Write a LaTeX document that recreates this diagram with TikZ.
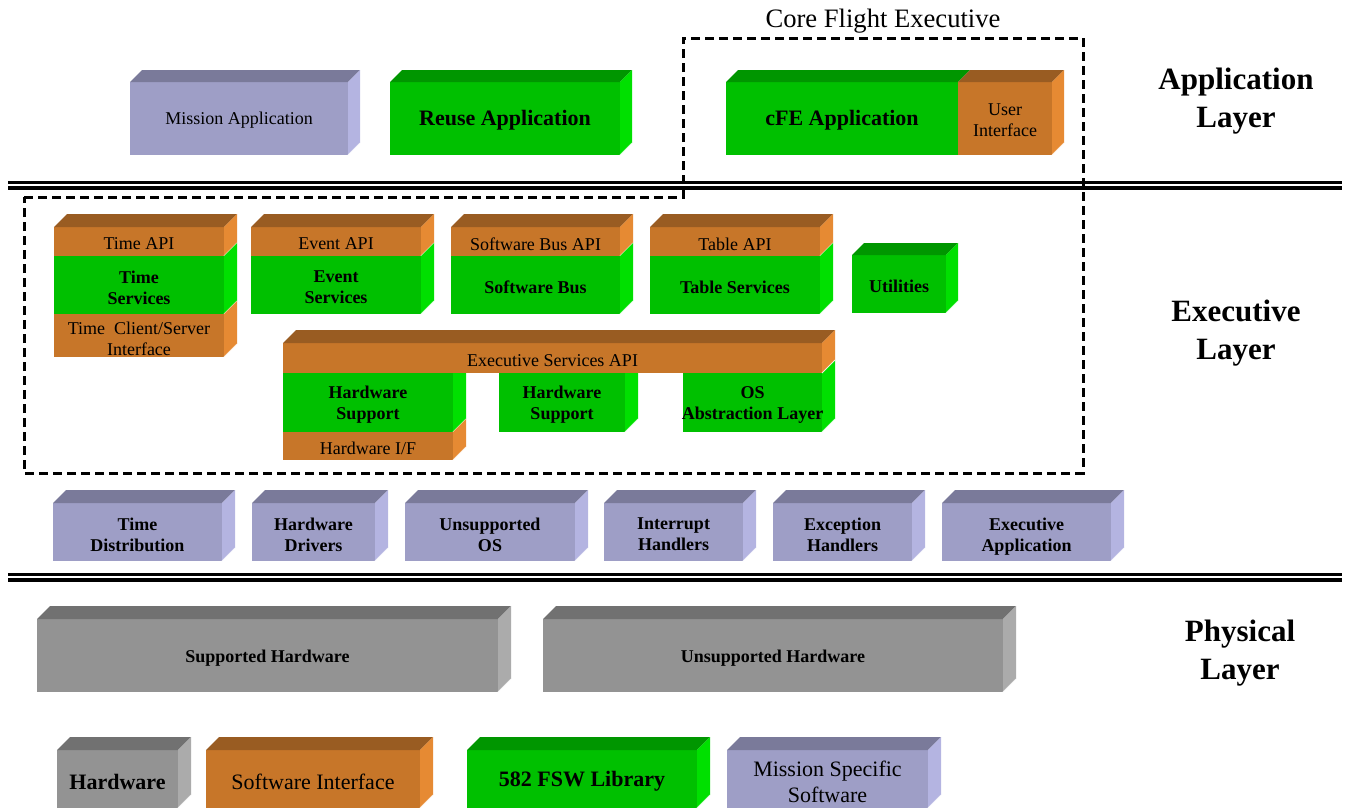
\documentclass[tikz,border=0pt]{standalone}
\usepackage{fontspec}
\setmainfont{Liberation Serif}
\definecolor{gF}{HTML}{00C000}\definecolor{gT}{HTML}{009600}\definecolor{gS}{HTML}{00E000}
\definecolor{oF}{HTML}{C77629}\definecolor{oT}{HTML}{995C22}\definecolor{oS}{HTML}{E68A33}
\definecolor{pF}{HTML}{9E9EC6}\definecolor{pT}{HTML}{7A7A9A}\definecolor{pS}{HTML}{B4B4E1}
\definecolor{hF}{HTML}{939393}\definecolor{hT}{HTML}{717171}\definecolor{hS}{HTML}{ABABAB}
% front face: x1,y1,x2,y2,col
\newcommand\frontF[5]{\fill[#5F] (#1,#2) rectangle (#3,#4);}
% top face: x1,y1,x2,d,col
\newcommand\topF[5]{\fill[#5T] (#1,#2) -- (#3,#2) -- (#3+#4,#2-#4) -- (#1+#4,#2-#4) -- cycle;}
% side face: x2,y1,y2,d,col
\newcommand\sideF[5]{\fill[#5S] (#1,#2) -- (#1+#4,#2-#4) -- (#1+#4,#3-#4) -- (#1,#3) -- cycle;
  \draw[white,opacity=.8,line width=.4pt] (#1,#3) -- (#1+#4,#3-#4);}
% full block: x1,y1,x2,y2,d,col
\newcommand\blk[6]{\frontF{#1}{#2}{#3}{#4}{#6}\topF{#1}{#2}{#3}{#5}{#6}\sideF{#3}{#2}{#4}{#5}{#6}}
% block without top: x1,y1,x2,y2,d,col
\newcommand\blkN[6]{\frontF{#1}{#2}{#3}{#4}{#6}\sideF{#3}{#2}{#4}{#5}{#6}}
\tikzset{
  txt/.style={align=center, inner sep=0pt, text=black, yshift=-1.25pt},
  t9/.style={txt, font=\fontsize{9}{10.5}\selectfont},
  b9/.style={txt, font=\fontsize{9}{10.5}\selectfont\bfseries},
  t11/.style={txt, font=\fontsize{11}{13}\selectfont},
  b11/.style={txt, font=\fontsize{11}{13}\selectfont\bfseries},
  layerlbl/.style={txt, font=\fontsize{15.5}{19}\selectfont\bfseries},
  titlelbl/.style={txt, font=\fontsize{13.3}{15}\selectfont},
  sep/.style={line width=1.6pt, black},
  cfe/.style={line width=1.5pt, black, dash pattern=on 4.5pt off 2.5pt}
}
\begin{document}
\begin{tikzpicture}[x=0.5pt,y=-0.5pt]
\useasboundingbox (0,0) rectangle (1350,810);
% ---------------- Application layer ----------------
\blk{130}{82}{348}{155}{12}{p}
\node[t9] (missionapp) at (239,118) {Mission Application};
\blk{390}{82}{620}{155}{12}{g}
\node[b11] (reuseapp) at (505,118) {Reuse Application};
\frontF{726}{82}{958}{155}{g}\topF{726}{82}{958}{12}{g}
\frontF{958}{82}{1052}{155}{o}\topF{958}{82}{1052}{12}{o}\sideF{1052}{82}{155}{12}{o}
\node[b11] (cfeapp) at (842,118) {cFE Application};
\node[t9] (ui) at (1005,118) {User\\Interface};
% ---------------- Executive layer: services ----------------
% Time
\frontF{54}{227}{224}{256}{o}\topF{54}{227}{224}{13}{o}\sideF{224}{227}{256}{13}{o}
\blkN{54}{256}{224}{314}{13}{g}
\blkN{54}{314}{224}{357}{13}{o}
\node[t9] (timeapi) at (139,241.5) {Time API};
\node[b9] (timesvc) at (139,285) {Time\\Services};
\node[t9] (timecs) at (139,336) {Time~ Client/Server\\Interface};
% Event
\frontF{251}{227}{421}{256}{o}\topF{251}{227}{421}{13}{o}\sideF{421}{227}{256}{13}{o}
\blkN{251}{256}{421}{314}{13}{g}
\node[t9] (eventapi) at (336,241.5) {Event API};
\node[b9] (eventsvc) at (336,285) {Event\\Services};
% Software Bus
\frontF{451}{227}{620}{256}{o}\topF{451}{227}{620}{13}{o}\sideF{620}{227}{256}{13}{o}
\blkN{451}{256}{620}{314}{13}{g}
\node[t9] (sbapi) at (535.5,241.5) {Software Bus API};
\node[b9] (sb) at (535.5,285) {Software Bus};
% Table
\frontF{650}{227}{820}{256}{o}\topF{650}{227}{820}{13}{o}\sideF{820}{227}{256}{13}{o}
\blkN{650}{256}{820}{314}{13}{g}
\node[t9] (tblapi) at (735,241.5) {Table API};
\node[b9] (tbl) at (735,285) {Table Services};
% Utilities
\blk{852}{255}{946}{313}{12}{g}
\node[b9] (util) at (899,284) {Utilities};
% ---------------- Executive services ----------------
\blkN{283}{373}{453}{432}{13}{g}
\blkN{283}{432}{453}{460}{13}{o}
\blkN{499}{373}{625}{432}{13}{g}
\blkN{683}{373}{822}{432}{13}{g}
\blk{283}{343}{822}{373}{13}{o}
\node[t9] (esapi) at (552.5,358) {Executive Services API};
\node[b9] (hws1) at (368,402) {Hardware\\Support};
\node[t9] (hwif) at (368,446) {Hardware I/F};
\node[b9] (hws2) at (562,402) {Hardware\\Support};
\node[b9] (osal) at (752.5,402) {OS\\Abstraction Layer};
% ---------------- Executive layer: non-cFE ----------------
\blk{53}{503}{222}{561}{13}{p}
\node[b9] (timedist) at (137.5,532) {Time\\Distribution};
\blk{252}{503}{375}{561}{13}{p}
\node[b9] (hwdrv) at (313.5,532) {Hardware\\Drivers};
\blk{405}{503}{575}{561}{13}{p}
\node[b9] (unsos) at (490,532) {Unsupported\\OS};
\blk{604}{503}{743}{561}{13}{p}
\node[b9] (inth) at (673.5,532) {Interrupt\\Handlers};
\blk{773}{503}{912}{561}{13}{p}
\node[b9] (exch) at (842.5,532) {Exception\\Handlers};
\blk{942}{503}{1111}{561}{13}{p}
\node[b9] (execapp) at (1026.5,534) {Executive\\Application};
% ---------------- Physical layer ----------------
\blk{37}{619}{498}{692}{13}{h}
\node[b9] (suphw) at (267.5,656) {Supported Hardware};
\blk{543}{619}{1003}{692}{13}{h}
\node[b9] (unsuphw) at (773,656) {Unsupported Hardware};
% ---------------- Legend ----------------
\blk{57}{750}{178}{808}{13}{h}
\node[b11] (lghw) at (117.5,779) {Hardware};
\blk{206}{750}{420}{808}{13}{o}
\node[t11] (lgsw) at (313,779) {Software Interface};
\blk{467}{750}{697}{808}{13}{g}
\node[b11] (lgfsw) at (582,779) {582 FSW Library};
\blk{727}{750}{928}{808}{13}{p}
\node[t11] (lgmiss) at (827.5,779) {Mission Specific\\Software};
% ---------------- Separators ----------------
\coordinate (s1a) at (8,182.5); \coordinate (s1b) at (1342,182.5);
\coordinate (s2a) at (8,188); \coordinate (s2b) at (1342,188);
\coordinate (s3a) at (8,574.5); \coordinate (s3b) at (1342,574.5);
\coordinate (s4a) at (8,580); \coordinate (s4b) at (1342,580);
\draw[sep] (s1a) -- (s1b);
\draw[sep] (s2a) -- (s2b);
\draw[sep] (s3a) -- (s3b);
\draw[sep] (s4a) -- (s4b);
% ---------------- Core Flight Executive boundary ----------------
\draw[cfe] (24,197) -- (683,197) -- (683,38) -- (1083,38) -- (1083,473) -- (24,473) -- cycle;
\node[titlelbl] (cfetitle) at (883,19) {Core Flight Executive};
% ---------------- Layer labels ----------------
\node[layerlbl] (applayer) at (1236,99) {Application\\Layer};
\node[layerlbl] (execlayer) at (1236,331) {Executive\\Layer};
\node[layerlbl] (physlayer) at (1240,651) {Physical\\Layer};
\end{tikzpicture}
\end{document}
